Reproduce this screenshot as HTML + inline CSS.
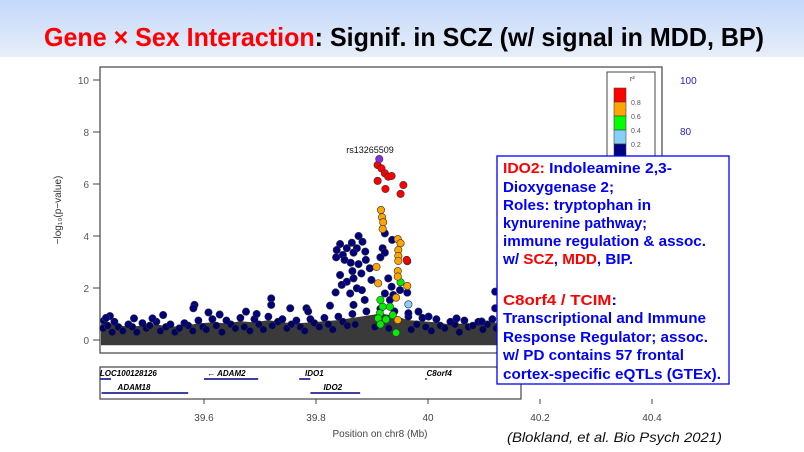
<!DOCTYPE html>
<html><head><meta charset="utf-8"><style>
html,body{margin:0;padding:0;background:#fff;}
svg{display:block;font-family:"Liberation Sans",sans-serif;}
</style></head><body>
<svg id="c" width="804" height="452" viewBox="0 0 804 452" xmlns="http://www.w3.org/2000/svg">
<defs><linearGradient id="hg" x1="0" y1="0" x2="0" y2="1"><stop offset="0" stop-color="#c3d8fb"/><stop offset="1" stop-color="#e7eef9"/></linearGradient></defs>
<rect x="0" y="0" width="804" height="57" fill="url(#hg)"/>
<text x="44" y="46" font-size="26" font-weight="bold" textLength="720" lengthAdjust="spacingAndGlyphs"><tspan fill="#f00">Gene × Sex Interaction</tspan><tspan fill="#000">: Signif. in SCZ (w/ signal in MDD, BP)</tspan></text>
<rect x="100" y="67" width="562" height="286" fill="none" stroke="#444" stroke-width="1.2"/>
<g id="yaxis"></g>
<text transform="translate(61,210) rotate(-90)" text-anchor="middle" font-size="10" fill="#333">−log₁₀(p−value)</text>
<text x="680" y="84" font-size="10" fill="#22c">100</text>
<text x="680" y="135" font-size="10" fill="#22c">80</text>
<g id="band"></g>
<g id="pts"></g>
<text x="370" y="153" font-size="9" text-anchor="middle" fill="#111">rs13265509</text>
<g>
<rect x="607" y="72" width="48" height="90" fill="#fff" stroke="#444"/>
<text x="630" y="81" font-size="7" fill="#333">r²</text>
<rect x="614" y="88" width="12" height="14" fill="#f00" stroke="#444" stroke-width="0.6"/>
<rect x="614" y="102" width="12" height="14" fill="#ffa500" stroke="#444" stroke-width="0.6"/>
<rect x="614" y="116" width="12" height="14" fill="#0f0" stroke="#444" stroke-width="0.6"/>
<rect x="614" y="130" width="12" height="14" fill="#87cefa" stroke="#444" stroke-width="0.6"/>
<rect x="614" y="144" width="12" height="14" fill="#000080" stroke="#444" stroke-width="0.6"/>
<g font-size="7" fill="#555"><text x="631" y="105">0.8</text><text x="631" y="119">0.6</text><text x="631" y="133">0.4</text><text x="631" y="147">0.2</text></g>
</g>
<rect x="100" y="367" width="421" height="32" fill="#fff" stroke="#444" stroke-width="1.2"/>
<g id="genes"></g>
<g id="xaxis"></g>
<text x="380" y="437" font-size="10" text-anchor="middle" fill="#444">Position on chr8 (Mb)</text>
<text x="507" y="442" font-size="14" font-style="italic" fill="#111" textLength="215" lengthAdjust="spacingAndGlyphs">(Blokland, et al. Bio Psych 2021)</text>
<g>
<rect x="497" y="156" width="232" height="228" fill="#fff" stroke="#00f" stroke-width="1.3"/>
<g font-size="15" font-weight="bold" fill="#00f">
<text x="503" y="173" textLength="169" lengthAdjust="spacingAndGlyphs"><tspan fill="#f00">IDO2:</tspan> Indoleamine 2,3-</text>
<text x="503" y="192" textLength="111" lengthAdjust="spacingAndGlyphs">Dioxygenase 2;</text>
<text x="503" y="210" textLength="148" lengthAdjust="spacingAndGlyphs">Roles: tryptophan in</text>
<text x="503" y="228" textLength="144" lengthAdjust="spacingAndGlyphs">kynurenine pathway;</text>
<text x="503" y="246" textLength="203" lengthAdjust="spacingAndGlyphs">immune regulation &amp; assoc.</text>
<text x="503" y="264" textLength="130" lengthAdjust="spacingAndGlyphs">w/ <tspan fill="#f00">SCZ</tspan>, <tspan fill="#f00">MDD</tspan>, BIP.</text>
<text x="503" y="305" textLength="114" lengthAdjust="spacingAndGlyphs"><tspan fill="#f00">C8orf4 / TCIM</tspan>:</text>
<text x="503" y="323" textLength="203" lengthAdjust="spacingAndGlyphs">Transcriptional and Immune</text>
<text x="503" y="342" textLength="205" lengthAdjust="spacingAndGlyphs">Response Regulator; assoc.</text>
<text x="503" y="360" textLength="181" lengthAdjust="spacingAndGlyphs">w/ PD contains 57 frontal</text>
<text x="503" y="379" textLength="218" lengthAdjust="spacingAndGlyphs">cortex-specific eQTLs (GTEx).</text>
</g></g>
</svg>
<script>
// data
const snpPos=[39.913,39.910,39.917,39.923,39.929,39.935,39.910,39.924,39.956,39.951,39.963,39.962,
39.916,39.918,39.920,39.919,39.946,39.951,39.947,39.947,39.947,39.908,39.946,39.946,39.911,39.963,39.943,39.946,
39.951,39.915,39.919,39.932,39.914,39.937,39.911,39.925,39.915,39.943,39.965,
39.876,39.883,39.864,39.843,39.855,39.837,39.873,39.888,39.867,39.848,39.836,39.889,39.851,39.862,39.876,39.896,39.865,39.881,39.843,39.867,39.855,39.899,39.846,39.873,39.882,39.835,39.861,39.887,39.867,39.923,39.936,39.919,39.923,39.915,39.963,39.965,39.950,39.929,39.935,39.923,39.938,39.932,
39.720,39.720,39.583,39.581,39.432,39.425,39.475,39.508,39.527,39.608,39.628,39.675,39.694,39.754,39.783,39.786,39.825,39.983,40.001,40.051,40.096,40.120,40.120,40.140,40.180,40.230];
const snpLogP=[6.96,6.73,6.60,6.41,6.28,6.31,6.12,5.81,5.96,5.62,3.03,3.08,
5.0,4.72,4.53,4.27,3.88,3.72,3.46,3.23,3.04,2.81,2.65,2.44,2.18,2.08,1.63,0.77,
2.22,1.54,1.28,1.28,1.03,0.96,0.83,0.79,0.60,0.28,1.37,
4.0,3.78,3.74,3.69,3.53,3.46,3.53,3.40,3.36,3.27,3.18,3.08,3.08,2.97,2.92,2.76,2.65,2.56,2.50,2.37,2.24,2.31,2.12,1.99,1.92,1.83,1.79,1.54,1.35,4.1,3.85,3.53,3.36,3.18,1.82,1.03,1.92,2.37,2.05,1.79,1.73,1.54,
1.6,1.35,1.35,1.22,0.92,0.85,0.83,0.83,0.96,1.06,0.98,1.09,1.0,1.22,1.22,1.1,1.32,1.09,0.9,0.83,0.71,1.86,1.22,1.0,0.9,0.8];
const snpR2=[9,5,5,5,5,5,5,5,5,5,5,5,
4,4,4,4,4,4,4,4,4,4,4,4,4,4,4,4,
3,3,3,3,3,3,3,3,3,3,2,
1,1,1,1,1,1,1,1,1,1,1,1,1,1,1,1,1,1,1,1,1,1,1,1,1,1,1,1,1,1,1,1,1,1,1,1,1,1,1,1,1,1,
1,1,1,1,1,1,1,1,1,1,1,1,1,1,1,1,1,1,1,1,1,1,1,1,1,1];
const basePos=[39.415,39.44,39.465,39.49,39.515,39.54,39.565,39.59,39.615,39.64,39.665,39.69,39.715,39.74,39.765,39.79,39.815,39.84,39.865,39.89,39.915,39.94,39.965,39.99,40.015,40.04,40.065,40.09,40.115,40.14,40.165,40.19,40.215,40.24,40.265,40.29,40.315,40.34,40.365,40.39,40.418];
const baseLogP=[0.75,0.7,0.6,0.65,0.7,0.6,0.65,0.75,0.8,0.75,0.85,0.8,0.9,0.8,0.75,0.8,0.85,0.9,1.0,1.1,1.2,1.1,0.9,0.85,0.8,0.7,0.75,0.7,0.8,0.75,0.7,0.65,0.7,0.6,0.65,0.7,0.6,0.65,0.6,0.7,0.6];
const fillPos=[39.42,39.428,39.436,39.447,39.455,39.472,39.48,39.497,39.503,39.522,39.532,39.548,39.556,39.572,39.58,39.598,39.604,39.622,39.632,39.648,39.656,39.672,39.682,39.698,39.706,39.722,39.732,39.748,39.756,39.772,39.78,39.797,39.806,39.822,39.83,39.848,39.856,39.87,39.905,39.93,39.97,39.98,39.996,40.006,40.022,40.03,40.048,40.056,40.072,40.08,40.098,40.106,40.122,40.13,40.146,40.156,40.172,40.18,40.198,40.206,40.222,40.23];
const fillLogP=[0.45,0.55,0.3,0.5,0.35,0.5,0.3,0.45,0.55,0.35,0.5,0.3,0.45,0.55,0.35,0.5,0.4,0.55,0.3,0.6,0.45,0.5,0.35,0.6,0.4,0.55,0.7,0.45,0.6,0.5,0.35,0.65,0.5,0.6,0.4,0.7,0.55,0.6,0.5,0.45,0.4,0.6,0.5,0.35,0.55,0.45,0.6,0.3,0.5,0.55,0.4,0.6,0.45,0.35,0.55,0.5,0.4,0.6,0.45,0.5,0.35,0.55];
const yTicks=[0,2,4,6,8,10];
const xTicks=[39.6,39.8,40,40.2,40.4];
const geneNames=["LOC100128126","← ADAM2","IDO1","C8orf4","ADAM18","IDO2"];
const geneStart=[39.415,39.6,39.77,39.995,39.417,39.79];
const geneEnd=[39.432,39.695,39.788,39.996,39.57,39.877];
const geneRow=[0,0,0,0,1,1];
const labelMid=[39.465,39.64,39.797,40.02,39.475,39.83];

const X=v=>204+(v-39.6)*560, Y=v=>340-v*26;
const NS="http://www.w3.org/2000/svg";
function mk(tag,attrs,parent){const e=document.createElementNS(NS,tag);for(const k in attrs)e.setAttribute(k,attrs[k]);parent.appendChild(e);return e;}
const ya=document.getElementById('yaxis');
yTicks.forEach(t=>{mk('line',{x1:93,x2:100,y1:Y(t),y2:Y(t),stroke:'#444'},ya);
 const tx=mk('text',{x:89,y:Y(t)+4,'text-anchor':'end','font-size':10,fill:'#556'},ya);tx.textContent=t;
 
 });
const xa=document.getElementById('xaxis');
xTicks.forEach(t=>{mk('line',{x1:X(t),x2:X(t),y1:399,y2:404,stroke:'#444'},xa);
 const tx=mk('text',{x:X(t),y:421,'text-anchor':'middle','font-size':10,fill:'#444'},xa);tx.textContent=t;
 
 });
const band=document.getElementById('band');
let d='M101,'+Y(-0.2);
basePos.forEach((p,i)=>{d+=' L'+Math.max(101,Math.min(661,X(p)))+','+Y(baseLogP[i]*0.85);});
d+=' L661,'+Y(-0.2)+' Z';
const bp=mk('path',{d:d,fill:'#3a3a3a'},band);


const pg=document.getElementById('pts');
fillPos.forEach((p,i)=>{const c=mk('circle',{cx:X(p),cy:Y(fillLogP[i]),r:3.6,fill:'#000060',stroke:'#333','stroke-width':0.6},pg);
 
 });
basePos.forEach((p,i)=>{const c=mk('circle',{cx:Math.max(104,X(p)),cy:Y(baseLogP[i]),r:3.6,fill:'#000080',stroke:'#222','stroke-width':0.6},pg);
 
 });
const cols={1:'#000080',2:'#87cefa',3:'#00ee00',4:'#ffa500',5:'#f00',9:'#8a2be2'};
const order=snpPos.map((p,i)=>i).sort((a,b)=>(snpR2[a]===9)-(snpR2[b]===9)||snpR2[a]-snpR2[b]);
order.forEach(i=>{const c=mk('circle',{cx:X(snpPos[i]),cy:Y(snpLogP[i]),r:3.7,fill:cols[snpR2[i]],stroke:'#333','stroke-width':0.6},pg);
 
 });
const gg=document.getElementById('genes');
geneNames.forEach((n,i)=>{const ly=geneRow[i]?393:379;
 const ln=mk('line',{x1:X(geneStart[i]),x2:X(geneEnd[i])+1,y1:ly,y2:ly,stroke:'#000080','stroke-width':1.5},gg);
 
 
 const t=mk('text',{x:X(labelMid[i]),y:ly-3,'text-anchor':'middle','font-size':8,'font-style':'italic','font-weight':'bold',fill:'#000'},gg);t.textContent=n;
 
 });
</script>
</body></html>
